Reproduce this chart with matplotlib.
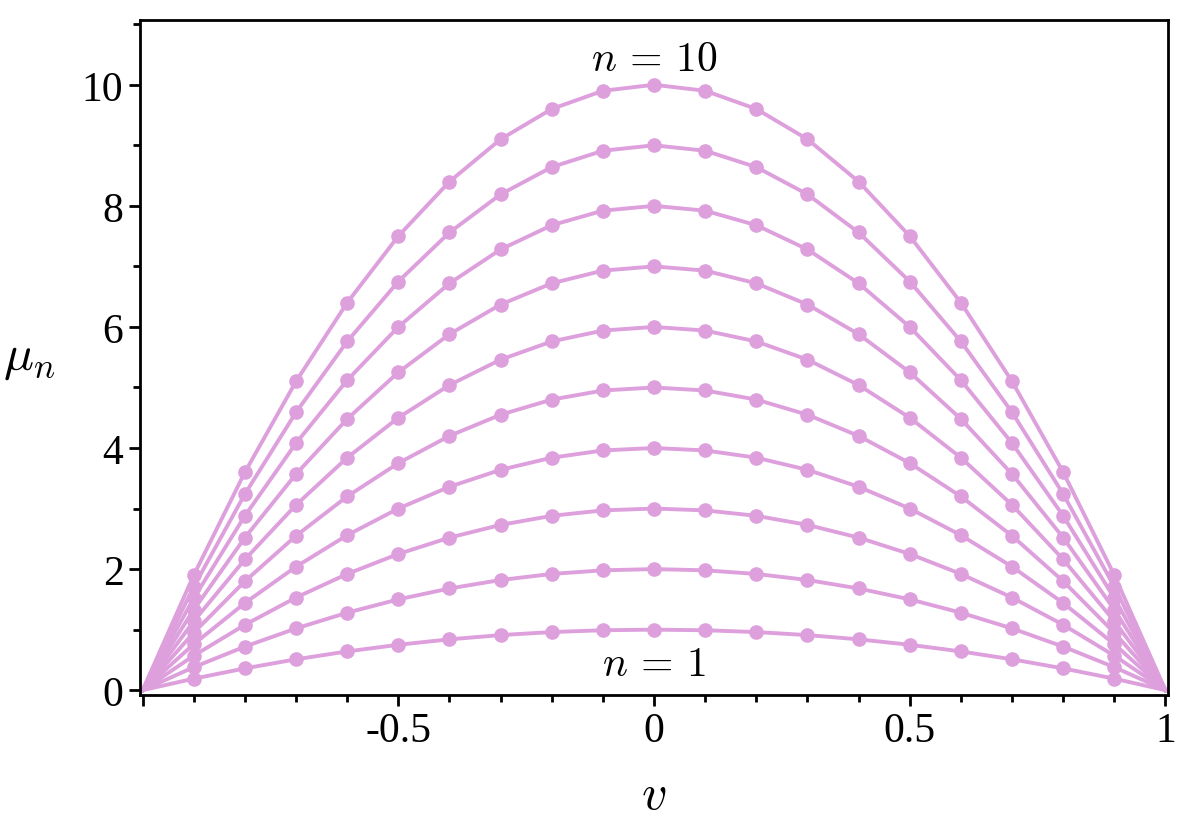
import matplotlib
matplotlib.use('Agg')
import matplotlib.pyplot as plt
from matplotlib.ticker import MultipleLocator, FixedLocator

# speed values
v = [-1.0, -0.9, -0.8, -0.7, -0.6, -0.5, -0.4, -0.3, -0.2, -0.1, 0.0,
     0.1, 0.2, 0.3, 0.4, 0.5, 0.6, 0.7, 0.8, 0.9, 1.0]

mu_1 = [0, 0.19, 0.36, 0.51, 0.64, 0.75, 0.84, 0.91, 0.96, 0.99, 1.0,
        0.99, 0.96, 0.91, 0.84, 0.75, 0.64, 0.51, 0.36, 0.19, 0]
mu_2 = [0, 0.38, 0.72, 1.02, 1.28, 1.5, 1.68, 1.82, 1.92, 1.98, 2.0,
        1.98, 1.92, 1.82, 1.68, 1.5, 1.28, 1.02, 0.72, 0.38, 0]
mu_3 = [0, 0.57, 1.08, 1.53, 1.92, 2.25, 2.52, 2.73, 2.88, 2.97, 3.0,
        2.97, 2.88, 2.73, 2.52, 2.25, 1.92, 1.53, 1.08, 0.57, 0]
mu_4 = [0, 0.76, 1.44, 2.04, 2.56, 3.0, 3.36, 3.64, 3.84, 3.96, 4.0,
        3.96, 3.84, 3.64, 3.36, 3.0, 2.56, 2.04, 1.44, 0.76, 0]
mu_5 = [0, 0.95, 1.8, 2.55, 3.2, 3.75, 4.2, 4.55, 4.8, 4.95, 5.0,
        4.95, 4.8, 4.55, 4.2, 3.75, 3.2, 2.55, 1.8, 0.95, 0]
mu_6 = [0, 1.14, 2.16, 3.06, 3.84, 4.5, 5.04, 5.46, 5.76, 5.94, 6.0,
        5.94, 5.76, 5.46, 5.04, 4.5, 3.84, 3.06, 2.16, 1.14, 0]
mu_7 = [0, 1.33, 2.52, 3.57, 4.48, 5.25, 5.88, 6.37, 6.72, 6.93, 7.0,
        6.93, 6.72, 6.37, 5.88, 5.25, 4.48, 3.57, 2.52, 1.33, 0]
mu_8 = [0, 1.52, 2.88, 4.08, 5.12, 6.0, 6.72, 7.28, 7.68, 7.92, 8.0,
        7.92, 7.68, 7.28, 6.72, 6.0, 5.12, 4.08, 2.88, 1.52, 0]
mu_9 = [0, 1.71, 3.24, 4.59, 5.76, 6.75, 7.56, 8.19, 8.64, 8.91, 9.0,
        8.91, 8.64, 8.19, 7.56, 6.75, 5.76, 4.59, 3.24, 1.71, 0]
mu_10 = [0, 1.9, 3.6, 5.1, 6.4, 7.5, 8.4, 9.1, 9.6, 9.9, 10.0,
         9.9, 9.6, 9.1, 8.4, 7.5, 6.4, 5.1, 3.6, 1.9, 0]

curves = [mu_1, mu_2, mu_3, mu_4, mu_5, mu_6, mu_7, mu_8, mu_9, mu_10]

plt.rcParams['font.family'] = ['Liberation Serif', 'DejaVu Serif']
plt.rcParams['mathtext.fontset'] = 'cm'

fig = plt.figure(figsize=(11.97, 8.29), dpi=100)
ax = fig.add_axes([0.117, 0.1604, 0.8588, 0.8143])

color = '#DDA0DD'
for mu in curves:
    ax.plot(v, mu, color=color, lw=2.8, marker='o', ms=9.5,
            markevery=slice(1, -1), solid_joinstyle='round')

ax.set_xlim(-1.005, 1.005)
ax.set_ylim(-0.08, 11.07)

ax.xaxis.set_major_locator(FixedLocator([-1, -0.5, 0, 0.5, 1]))
ax.set_xticklabels(['', '-0.5', '0', '0.5', '1'])
ax.xaxis.set_minor_locator(MultipleLocator(0.1))
ax.yaxis.set_major_locator(MultipleLocator(2))
ax.yaxis.set_minor_locator(MultipleLocator(1))
ax.set_yticks([0, 2, 4, 6, 8, 10])

ax.tick_params(which='major', direction='out', length=8, width=2,
               labelsize=30, pad=4)
ax.tick_params(which='minor', direction='out', length=5, width=2)
for s in ax.spines.values():
    s.set_linewidth(2)

ax.set_xlabel(r'$v$', fontsize=36, labelpad=16)
ax.set_ylabel(r'$\mu_n$', fontsize=36, rotation=0, labelpad=38, va='center')

ax.text(0, 10.42, r'$n\,=\,10$', fontsize=30, ha='center', va='center')
ax.text(0, 0.42, r'$n\,=\,1$', fontsize=30, ha='center', va='center')

fig.savefig('out.png', dpi=100)
